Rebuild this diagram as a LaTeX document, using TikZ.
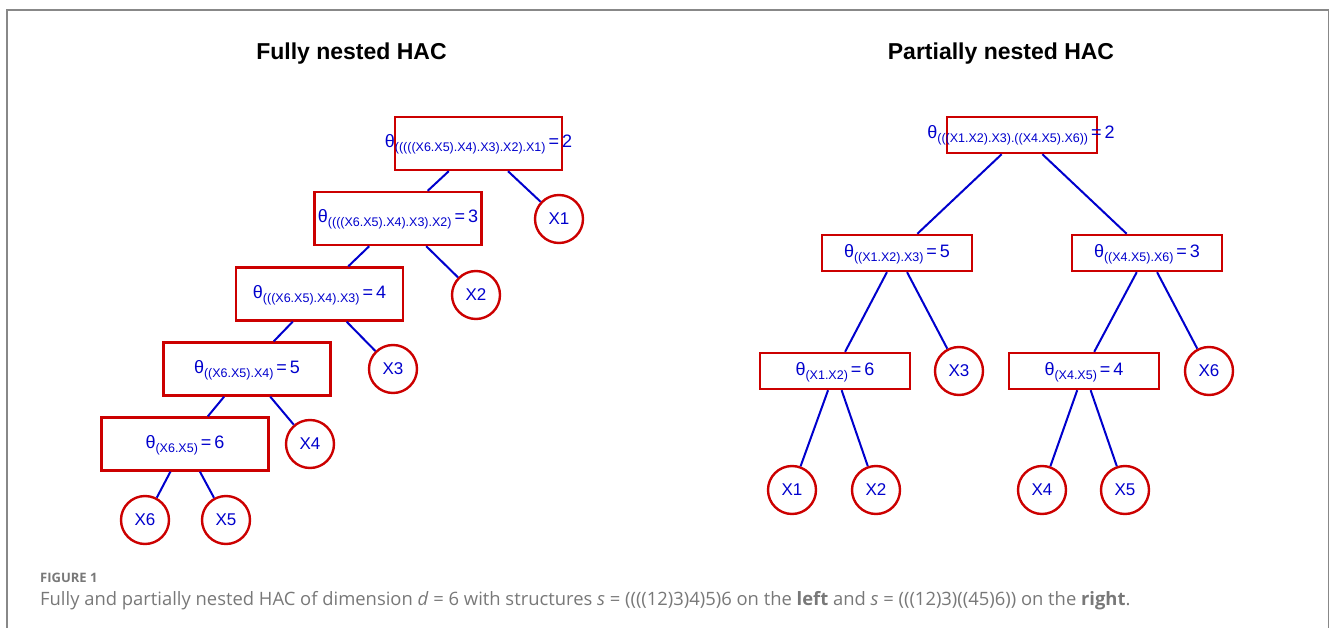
\documentclass[tikz,border=0pt]{standalone}
\usepackage{fontspec}
\setmainfont{Liberation Sans}
\newfontfamily\capfont{Open Sans}
\definecolor{hacred}{RGB}{204,0,0}
\definecolor{hacblue}{RGB}{0,0,205}
\definecolor{framegray}{RGB}{136,136,136}
\definecolor{capgray}{RGB}{120,120,120}
\newcommand\thl[2]{θ\raisebox{-4pt}{\fontsize{12.5}{12.5}\selectfont #1}\kern3pt=\kern3pt#2}
\tikzset{
  edge/.style={draw=hacblue, line width=2pt},
  lbox/.style={draw=hacred, line width=2.4pt, fill=white, minimum width=167pt, minimum height=53pt, inner sep=0pt},
  rbox/.style={draw=hacred, line width=2.4pt, fill=white, minimum width=150pt, minimum height=36pt, inner sep=0pt},
  leaf/.style={circle, draw=hacred, line width=2.4pt, fill=white, minimum size=48pt, inner sep=0pt, text=hacblue, font=\fontsize{17}{17}\selectfont},
  thlab/.style={text=hacblue, inner sep=0pt, yshift=-1pt, font=\fontsize{18}{18}\selectfont},
  title/.style={font=\bfseries\fontsize{23}{23}\selectfont, text=black},
}
\begin{document}
\begin{tikzpicture}[x=1pt,y=-1pt]
\useasboundingbox (0,0) rectangle (1330,628);
% frame
\draw[framegray, line width=1.5pt] (7,628) -- (7,10) -- (1328.5,10) -- (1328.5,628);
% titles
\node[title] (t1) at (351.5,53.5) {Fully nested HAC};
\node[title] (t2) at (1001,53.5) {Partially nested HAC};
% left tree
\node[lbox] (a1) at (478.5,143.5) {};
\node[lbox] (a2) at (398,218.5) {};
\node[lbox] (a3) at (319.5,294) {};
\node[lbox] (a4) at (247,369) {};
\node[lbox] (a5) at (185,444) {};
\node[leaf] (x1) at (559,219) {X1};
\node[leaf] (x2) at (476,295) {X2};
\node[leaf] (x3) at (393,369) {X3};
\node[leaf] (x4) at (310,444) {X4};
\node[leaf] (x6) at (145,520) {X6};
\node[leaf] (x5) at (226,520) {X5};
\draw[edge] (a1) -- (a2);
\draw[edge] (a1) -- (x1);
\draw[edge] (a2) -- (a3);
\draw[edge] (a2) -- (x2);
\draw[edge] (a3) -- (a4);
\draw[edge] (a3) -- (x3);
\draw[edge] (a4) -- (a5);
\draw[edge] (a4) -- (x4);
\draw[edge] (a5) -- (x6);
\draw[edge] (a5) -- (x5);
\node[thlab] (la1) at (a1.center) {\thl{(((((X6.X5).X4).X3).X2).X1)}{2}};
\node[thlab] (la2) at (a2.center) {\thl{((((X6.X5).X4).X3).X2)}{3}};
\node[thlab] (la3) at (a3.center) {\thl{(((X6.X5).X4).X3)}{4}};
\node[thlab] (la4) at (a4.center) {\thl{((X6.X5).X4)}{5}};
\node[thlab] (la5) at (a5.center) {\thl{(X6.X5)}{6}};
% right tree
\node[rbox] (b1) at (1022,135) {};
\node[rbox] (b2) at (897,253) {};
\node[rbox] (b3) at (1147,253) {};
\node[rbox] (b4) at (835,371) {};
\node[rbox] (b5) at (1084,371) {};
\node[leaf] (y3) at (959,371) {X3};
\node[leaf] (y6) at (1209,371) {X6};
\node[leaf] (y1) at (792,490) {X1};
\node[leaf] (y2) at (876,490) {X2};
\node[leaf] (y4) at (1042,490) {X4};
\node[leaf] (y5) at (1125,490) {X5};
\draw[edge] (b1) -- (b2);
\draw[edge] (b1) -- (b3);
\draw[edge] (b2) -- (b4);
\draw[edge] (b2) -- (y3);
\draw[edge] (b3) -- (b5);
\draw[edge] (b3) -- (y6);
\draw[edge] (b4) -- (y1);
\draw[edge] (b4) -- (y2);
\draw[edge] (b5) -- (y4);
\draw[edge] (b5) -- (y5);
\node[thlab] (lb1) at (1021,134) {\thl{(((X1.X2).X3).((X4.X5).X6))}{2}};
\node[thlab] (lb2) at (b2.center) {\thl{((X1.X2).X3)}{5}};
\node[thlab] (lb3) at (b3.center) {\thl{((X4.X5).X6)}{3}};
\node[thlab] (lb4) at (b4.center) {\thl{(X1.X2)}{6}};
\node[thlab] (lb5) at (b5.center) {\thl{(X4.X5)}{4}};
% caption
\node[anchor=base west, inner sep=0pt, text=capgray, font=\capfont\bfseries\fontsize{13}{13}\selectfont] (fig) at (40,582) {FIGURE 1};
\node[anchor=base west, inner sep=0pt, text=capgray, font=\capfont\fontsize{18.4}{18.4}\selectfont] (cap) at (40,605) {Fully and partially nested HAC of dimension \textit{d} = 6 with structures \textit{s} = ((((12)3)4)5)6 on the \textbf{left} and \textit{s} = (((12)3)((45)6)) on the \textbf{right}.};
\end{tikzpicture}
\end{document}
